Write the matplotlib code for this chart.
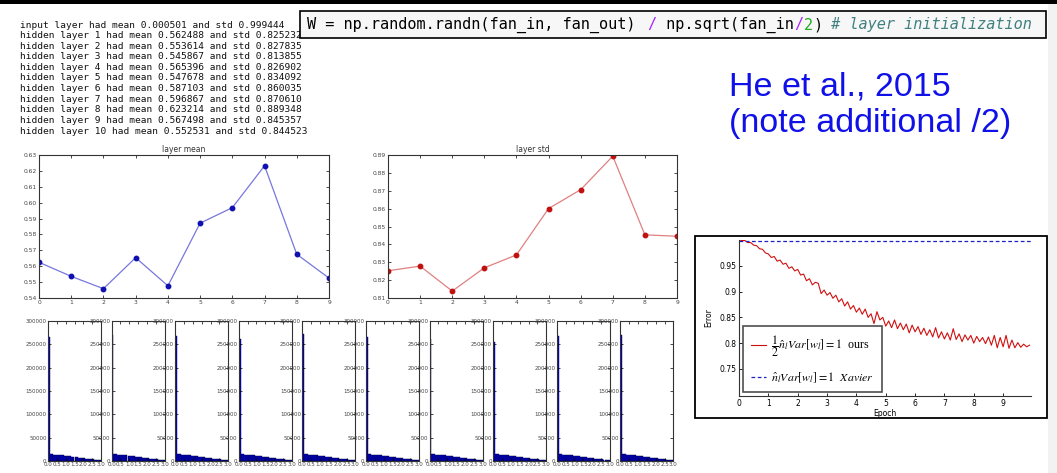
import numpy as np
import matplotlib
matplotlib.use('Agg')
import matplotlib.pyplot as plt
from matplotlib.patches import Rectangle

# layer statistics (printed and plotted)
layers = list(range(10))
layer_means = [0.562488, 0.553614, 0.545867, 0.565396, 0.547678,
               0.587103, 0.596867, 0.623214, 0.567498, 0.552531]
layer_stds = [0.825232, 0.827835, 0.813855, 0.826902, 0.834092,
              0.860035, 0.870610, 0.889348, 0.845357, 0.844523]
input_mean, input_std = 0.000501, 0.999444

# histogram counts (bins of 0.1 on [0, 3]); first bin differs per layer
hist_first_bin = [265000, 270000, 268000, 262000, 272000,
                  265000, 262000, 255000, 268000, 271000]
hist_tail = [14200, 14000, 13800, 13500, 13200, 12800, 12400, 12000, 11500,
             11000, 10500, 10000, 9400, 8900, 8300, 7800, 7200, 6700, 6200,
             5700, 5200, 4700, 4300, 3900, 3500, 3100, 2800, 2500, 2200]
hist_edges = [round(0.1 * i, 1) for i in range(30)]

# He et al. error curve
epochs = [round(0.1 * i, 1) for i in range(100)]
err_ours = [1.000, 0.999, 0.999, 0.995, 0.995, 0.990, 0.989, 0.983, 0.982, 0.975,
            0.973, 0.966, 0.968, 0.959, 0.961, 0.953, 0.955, 0.945, 0.948, 0.940,
            0.943, 0.932, 0.934, 0.921, 0.925, 0.913, 0.918, 0.916, 0.896, 0.903,
            0.893, 0.898, 0.887, 0.893, 0.880, 0.886, 0.872, 0.880, 0.866, 0.873,
            0.860, 0.868, 0.856, 0.866, 0.850, 0.857, 0.838, 0.861, 0.845, 0.850,
            0.833, 0.843, 0.830, 0.845, 0.828, 0.839, 0.826, 0.837, 0.820, 0.835,
            0.822, 0.832, 0.817, 0.829, 0.815, 0.826, 0.812, 0.830, 0.810, 0.822,
            0.808, 0.820, 0.806, 0.828, 0.807, 0.818, 0.803, 0.816, 0.806, 0.815,
            0.800, 0.813, 0.803, 0.811, 0.799, 0.812, 0.796, 0.815, 0.791, 0.811,
            0.793, 0.815, 0.790, 0.806, 0.791, 0.801, 0.792, 0.798, 0.793, 0.796]
err_xavier = [0.998, 0.998]
xavier_x = [0.0, 9.95]

W, H = 1057, 473


def box(x0, y0, x1, y1):
    return [x0 / W, 1 - y1 / H, (x1 - x0) / W, (y1 - y0) / H]


plt.rcParams['mathtext.fontset'] = 'stix'
fig = plt.figure(figsize=(W / 100, H / 100), dpi=100)
fig.patch.set_facecolor('white')

# top black strip and right gray strip
fig.patches.append(Rectangle((0, 1 - 4 / H), 1, 4 / H, transform=fig.transFigure,
                             facecolor='black', edgecolor='none', zorder=-2))
fig.patches.append(Rectangle((1048 / W, 0), 9 / W, 1 - 4 / H, transform=fig.transFigure,
                             facecolor='#f2f2f2', edgecolor='none', zorder=-2))

# printed output
lines = ['input layer had mean %f and std %f' % (input_mean, input_std)]
for i in range(10):
    lines.append('hidden layer %d had mean %f and std %f' % (i + 1, layer_means[i], layer_stds[i]))
for i, s in enumerate(lines):
    fig.text(20 / W, 1 - (25 + i * 10.6) / H, s, family='DejaVu Sans Mono',
             fontsize=6.8, va='center', color='#111111')

# code box
fig.patches.append(Rectangle((300 / W, 1 - 38 / H), 746 / W, 27 / H, transform=fig.transFigure,
                             facecolor='#f7f7f7', edgecolor='black', lw=1.2, zorder=5))
segs = [('W = np.random.randn(fan_in, fan_out) ', 'black', 'normal'),
        ('/', '#aa22ff', 'normal'),
        (' np.sqrt(fan_in', 'black', 'normal'),
        ('/', '#aa22ff', 'normal'),
        ('2', '#22aa22', 'normal'),
        (')', 'black', 'normal'),
        (' # layer initialization', '#408080', 'italic')]
cx = 307
charw = 9.2
for s, c, st in segs:
    fig.text(cx / W, 1 - 25 / H, s, family='DejaVu Sans Mono', fontsize=11.0,
             color=c, style=st, va='center', zorder=6)
    cx += len(s) * charw

# He et al. note
fig.text(729 / W, 1 - 95 / H, 'He et al., 2015', family='Liberation Sans',
         fontsize=24.5, color='#1010e8', va='baseline')
fig.text(729 / W, 1 - 132 / H, '(note additional /2)', family='Liberation Sans',
         fontsize=24.5, color='#1010e8', va='baseline')


def classic(ax, fs):
    ax.tick_params(direction='in', top=True, right=True, labelsize=fs,
                   labelcolor='#444444', length=2, width=0.5, pad=1.5)
    for sp in ax.spines.values():
        sp.set_color('#333333')
        sp.set_linewidth(0.8)


# layer mean
ax = fig.add_axes(box(39, 155, 329, 298))
ax.plot(layers, layer_means, color='#7777dd', lw=0.9)
ax.plot(layers, layer_means, 'o', color='#1010b0', ms=3.2)
ax.set_ylim(0.54, 0.63)
ax.set_xlim(0, 9)
ax.set_xticks(layers)
ax.set_yticks(np.arange(0.54, 0.6301, 0.01))
ax.yaxis.set_major_formatter(matplotlib.ticker.FormatStrFormatter('%.2f'))
ax.set_title('layer mean', fontsize=5.5, pad=2, color='#333333')
classic(ax, 4.3)

# layer std
ax = fig.add_axes(box(388, 155, 677, 298))
ax.plot(layers, layer_stds, color='#e08080', lw=0.9)
ax.plot(layers, layer_stds, 'o', color='#c01010', ms=3.2)
ax.set_ylim(0.81, 0.89)
ax.set_xlim(0, 9)
ax.set_xticks(layers)
ax.set_yticks(np.arange(0.81, 0.8901, 0.01))
ax.yaxis.set_major_formatter(matplotlib.ticker.FormatStrFormatter('%.2f'))
ax.set_title('layer std', fontsize=5.5, pad=2, color='#333333')
classic(ax, 4.3)

# histograms
for i in range(10):
    x0 = 48 + i * 63.6
    ax = fig.add_axes(box(x0, 321, x0 + 53, 461))
    counts = [hist_first_bin[i]] + hist_tail
    ax.bar(hist_edges, counts, width=0.1, align='edge', facecolor='#0000cc',
           edgecolor='#000040', lw=0.3)
    ax.set_xlim(0, 3)
    ax.set_ylim(0, 300000)
    ax.set_xticks([0, 0.5, 1.0, 1.5, 2.0, 2.5, 3.0])
    ax.set_xticklabels(['0.0', '0.5', '1.0', '1.5', '2.0', '2.5', '3.0'])
    ax.set_yticks(range(0, 300001, 50000))
    classic(ax, 4.0)
    ax.tick_params(pad=1)

# error chart frame (behind the axes)
fig.patches.append(Rectangle((695 / W, 1 - 418 / H), 352 / W, 182 / H, transform=fig.transFigure,
                             facecolor='white', edgecolor='black', lw=1.3, zorder=-1))
ax = fig.add_axes(box(739, 240, 1031, 396))
ax.patch.set_alpha(0)
l1, = ax.plot(epochs, err_ours, color='#d01010', lw=0.8)
l2, = ax.plot(xavier_x, err_xavier, color='#2020c0', lw=0.9, ls='--', dashes=(3, 2))
ax.set_xlim(0, 9.95)
ax.set_ylim(0.6975, 1.0)
ax.set_xticks(range(10))
ax.set_yticks([0.75, 0.8, 0.85, 0.9, 0.95])
ax.set_yticklabels(['0.75', '0.8', '0.85', '0.9', '0.95'])
ax.spines['top'].set_visible(False)
ax.spines['right'].set_visible(False)
for sp in ('left', 'bottom'):
    ax.spines[sp].set_color('#333333')
    ax.spines[sp].set_linewidth(0.8)
ax.tick_params(direction='in', labelsize=5.5, length=2.5, width=0.6, pad=2)
ax.set_xlabel('Epoch', fontsize=5.5, labelpad=1)
ax.set_ylabel('Error', fontsize=5.5, labelpad=4)
leg = ax.legend([l1, l2],
                [r'$\dfrac{1}{2}\hat{n}_l Var[w_l] = 1$  ours',
                 r'$\hat{n}_l Var[w_l] = 1$  $Xavier$'],
                loc='upper left', bbox_to_anchor=(743 / W, 1 - 326 / H),
                bbox_transform=fig.transFigure, borderaxespad=0,
                prop={'family': 'Liberation Serif', 'size': 8.6},
                labelspacing=0.9, handlelength=1.3, handletextpad=0.4,
                borderpad=0.65, fancybox=False)
leg.get_frame().set_edgecolor('#222222')
leg.get_frame().set_linewidth(1.2)

fig.savefig('out.png', dpi=100)
